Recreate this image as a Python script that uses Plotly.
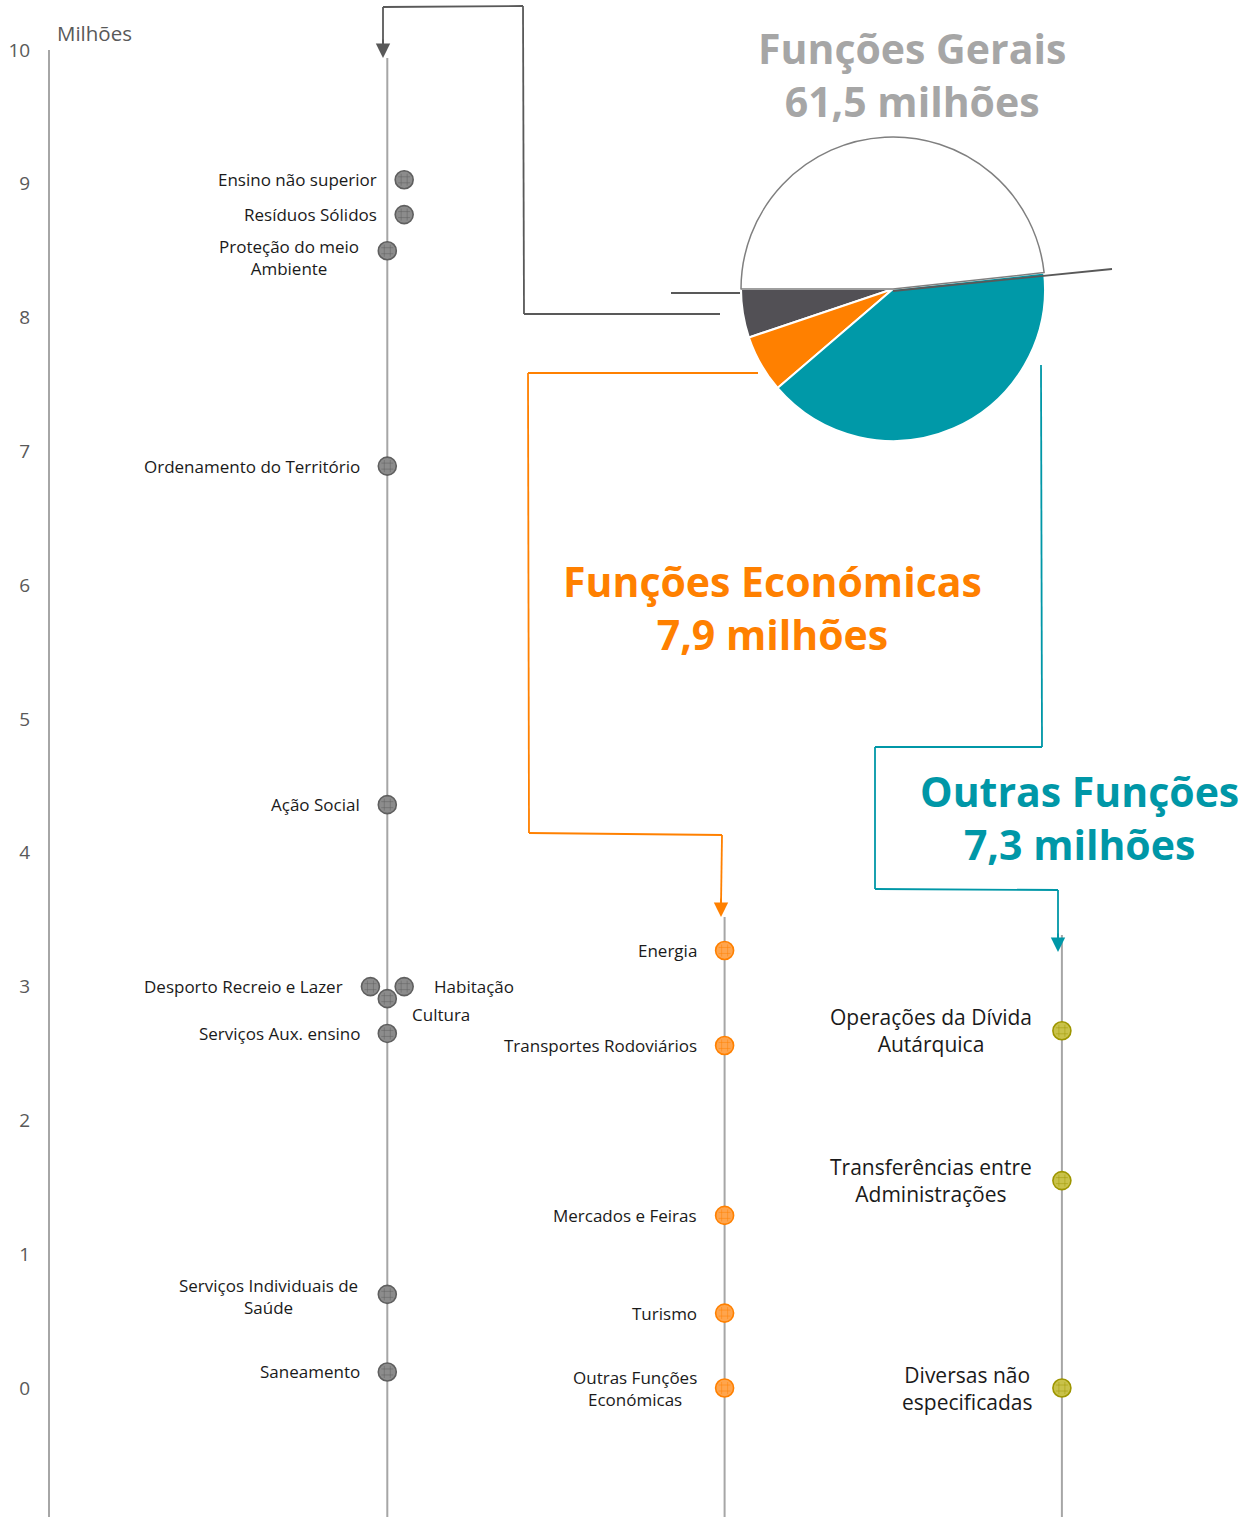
import plotly.graph_objects as go

# ---------------- data ----------------
ticks = [0, 1, 2, 3, 4, 5, 6, 7, 8, 9, 10]

gerais_labels = ["Ensino não superior", "Resíduos Sólidos", "Proteção do meio<br>Ambiente",
                 "Ordenamento do Território", "Ação Social", "Desporto Recreio e Lazer",
                 "Habitação", "Cultura", "Serviços Aux. ensino",
                 "Serviços Individuais de<br>Saúde", "Saneamento"]
gerais_values = [9.03, 8.77, 8.50, 6.89, 4.36, 3.00, 3.00, 2.91, 2.65, 0.70, 0.12]
gerais_xoff = [0.05, 0.05, 0, 0, 0, -0.05, 0.05, 0, 0, 0, 0]

econ_labels = ["Energia", "Transportes Rodoviários", "Mercados e Feiras", "Turismo",
               "Outras Funções<br>Económicas"]
econ_values = [3.27, 2.56, 1.29, 0.56, 0.0]

outras_labels = ["Operações da Dívida<br>Autárquica", "Transferências entre<br>Administrações",
                 "Diversas não<br>especificadas"]
outras_values = [2.67, 1.55, 0.0]

pie_labels = ["Funções Gerais", "Funções Económicas", "Outras", "Restante"]
pie_values = [18.6, 22.0, 145.6, 173.8]

# ---------------- layout geometry ----------------
W, H = 1249, 1517
L, R, T, B = 50, 19, 50, 0
PW, PH = W - L - R, H - T - B
YMIN, YMAX = -0.964, 10.0
XMAX = PW / 337.3


def px(xp):
    return (xp - L) / PW


def py(yp):
    return (H - B - yp) / PH


GREY = "#595959"
ORANGE = "#ff8000"
TEAL = "#0097a7"
AXIS = "#a6a6a6"
FONT = "'Open Sans', Lato, sans-serif"

fig = go.Figure()


def add_markers(xs, ys, fill, edge):
    fig.add_trace(go.Scatter(x=xs, y=ys, mode="markers", hoverinfo="skip",
                             marker=dict(size=18, color=fill, line=dict(color=edge, width=1.6)),
                             showlegend=False))
    fig.add_trace(go.Scatter(x=xs, y=ys, mode="markers", hoverinfo="skip",
                             marker=dict(size=12, symbol="hash-open", color=edge,
                                         line=dict(color=edge, width=0.8), opacity=0.6),
                             showlegend=False))


gx = [1 + o for o in gerais_xoff]
add_markers(gx, gerais_values, "#8c8c8c", "#5f5f5f")
add_markers([2] * len(econ_values), econ_values, "#ffa54d", ORANGE)
add_markers([3] * len(outras_values), outras_values, "#c9c24a", "#9e9600")

# column lines
shapes = []
shapes.append(dict(type="line", xref="x", yref="y", x0=1, x1=1, y0=(1388 - 58) / 133.8, y1=YMIN,
                   line=dict(color=AXIS, width=2), layer="below"))
shapes.append(dict(type="line", xref="x", yref="y", x0=2, x1=2, y0=(1388 - 917) / 133.8, y1=YMIN,
                   line=dict(color=AXIS, width=2), layer="below"))
shapes.append(dict(type="line", xref="x", yref="y", x0=3, x1=3, y0=(1388 - 935) / 133.8, y1=YMIN,
                   line=dict(color=AXIS, width=2), layer="below"))


def poly(points, color, width=1.8):
    for (x0, y0), (x1, y1) in zip(points[:-1], points[1:]):
        shapes.append(dict(type="line", xref="paper", yref="paper",
                           x0=px(x0), y0=py(y0), x1=px(x1), y1=py(y1),
                           line=dict(color=color, width=width)))


# leader lines
poly([(720, 314), (524, 314), (523, 6), (383, 7), (383, 45)], GREY)
poly([(671, 293), (740, 293)], GREY)
poly([(893, 291), (1112, 269)], GREY)
poly([(758, 373), (528, 373), (529, 833), (722, 835), (721, 905)], ORANGE)
poly([(1041, 365), (1042, 747), (875, 747), (875, 889), (1058, 890), (1058, 940)], TEAL)

annotations = []


def arrow(x, ytip, color):
    annotations.append(dict(xref="paper", yref="paper", x=px(x), y=py(ytip), ax=0, ay=-20,
                            text="", showarrow=True, arrowhead=2, arrowsize=1.6, arrowwidth=1.8,
                            arrowcolor=color))


arrow(383, 58, GREY)
arrow(721, 917, ORANGE)
arrow(1058, 952, TEAL)

# point labels (column 1)
lab_small = dict(size=17, color="#1a1a1a", family=FONT)
g_pos = {
    0: ("right", -25, 0),
    1: ("right", -25, 0),
    2: ("center", -98, 7),
    3: ("right", -25, 0),
    4: ("right", -25, 0),
    5: ("right", -25, 0),
    6: ("left", 28, 0),
    7: ("left", 23, 16),
    8: ("right", -25, 0),
    9: ("center", -119, 2),
    10: ("right", -25, 0),
}
for i, (lab, v) in enumerate(zip(gerais_labels, gerais_values)):
    al, dx, dy = g_pos[i]
    annotations.append(dict(x=gx[i], y=v, xref="x", yref="y", text=lab, showarrow=False,
                            xanchor=al, yanchor="middle", xshift=dx, yshift=-dy,
                            align="center", font=lab_small))

e_pos = [("right", -26, 0), ("right", -26, 0), ("right", -26, 0), ("right", -26, 0),
         ("center", -90, 0)]
for i, (lab, v) in enumerate(zip(econ_labels, econ_values)):
    al, dx, dy = e_pos[i]
    annotations.append(dict(x=2, y=v, xref="x", yref="y", text=lab, showarrow=False,
                            xanchor=al, yanchor="middle", xshift=dx, yshift=-dy,
                            align="center", font=lab_small))

lab_big = dict(size=21, color="#1a1a1a", family=FONT)
o_pos = [-131, -131, -95]
for i, (lab, v) in enumerate(zip(outras_labels, outras_values)):
    annotations.append(dict(x=3, y=v, xref="x", yref="y", text=lab, showarrow=False,
                            xanchor="center", yanchor="middle", xshift=o_pos[i],
                            align="center", font=lab_big))

# big titles
big = dict(size=41, family=FONT, weight="bold")
annotations.append(dict(xref="paper", yref="paper", x=px(912), y=py(75), text="Funções Gerais<br>61,5 milhões",
                        showarrow=False, xanchor="center", yanchor="middle", align="center",
                        font=dict(**big, color="#a6a6a6")))
annotations.append(dict(xref="paper", yref="paper", x=px(772), y=py(607), text="Funções Económicas<br>7,9 milhões",
                        showarrow=False, xanchor="center", yanchor="middle", align="center",
                        font=dict(**big, color=ORANGE)))
annotations.append(dict(xref="paper", yref="paper", x=px(1079), y=py(818), text="Outras Funções<br>7,3 milhões",
                        showarrow=False, xanchor="center", yanchor="middle", align="center",
                        font=dict(**big, color=TEAL)))

# "Milhões" unit label
annotations.append(dict(xref="paper", yref="paper", x=px(55), y=py(33), text="Milhões", showarrow=False,
                        xanchor="left", yanchor="middle", font=dict(size=20.5, color="#595959", family=FONT)))

# pie
cx, cy, r = 893, 289, 152
fig.add_trace(go.Pie(labels=pie_labels, values=pie_values, sort=False, direction="counterclockwise",
                     rotation=270 - pie_values[0], textinfo="none", hoverinfo="skip", showlegend=False,
                     marker=dict(colors=["#525055", ORANGE, "#0099a8", "white"],
                                 line=dict(color=["white", "white", "white", "#7f7f7f"], width=[2, 2, 2, 1.5])),
                     domain=dict(x=[px(cx - r), px(cx + r)], y=[py(cy + r), py(cy - r)])))

fig.update_layout(
    width=W, height=H,
    margin=dict(l=L, r=R, t=T, b=B, pad=0),
    paper_bgcolor="white", plot_bgcolor="white",
    xaxis=dict(range=[0, XMAX], visible=False, fixedrange=True),
    yaxis=dict(range=[YMIN, YMAX], tickvals=ticks, ticktext=[str(t) for t in ticks],
               showgrid=False, zeroline=False, showline=True, linecolor=AXIS, linewidth=2,
               ticks="", ticklabelstandoff=14,
               tickfont=dict(size=19, color="#595959", family=FONT)),
    shapes=shapes, annotations=annotations,
)

fig.write_html("out.html", config={"displayModeBar": False},
               post_script="document.body.style.margin='0';")
